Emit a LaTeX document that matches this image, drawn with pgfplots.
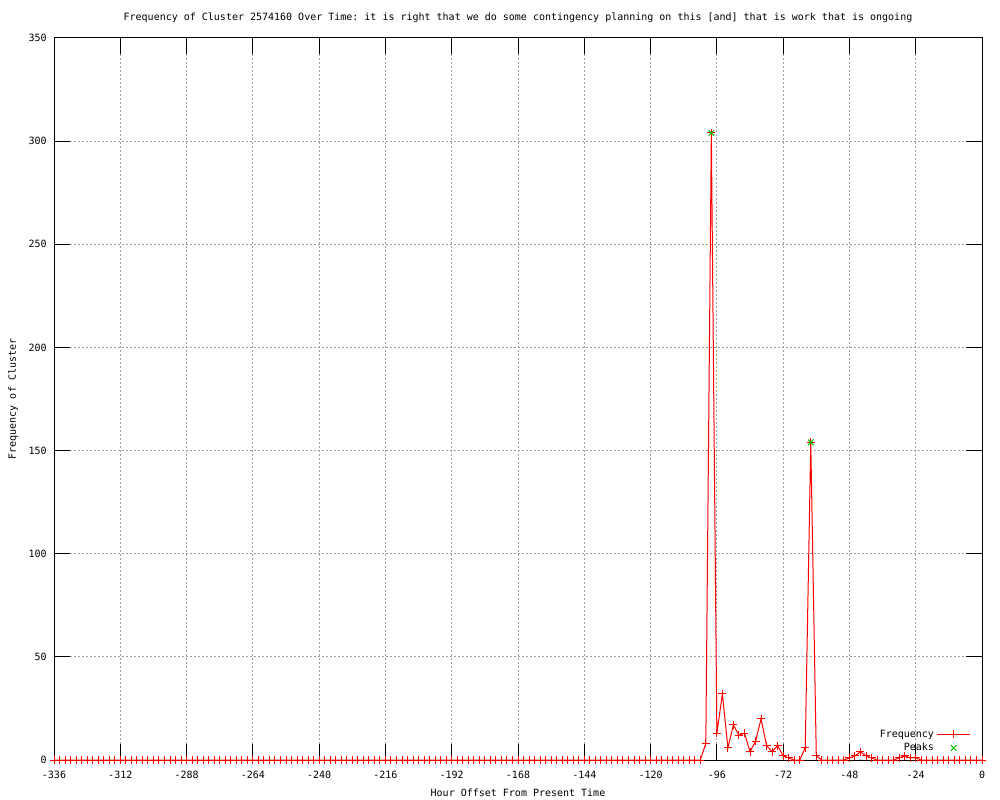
\documentclass[border=0pt]{standalone}
\usepackage{pgfplots}
\pgfplotsset{compat=1.18}
\usepackage{fontspec}
\setmainfont{DejaVu Sans Mono}
\frenchspacing
\definecolor{gpgreen}{RGB}{0,192,0}
\definecolor{gpgrid}{RGB}{160,160,160}
\begin{document}
\begin{tikzpicture}[font=\fontsize{7.5}{9}\selectfont]
\useasboundingbox (0,0) rectangle (750pt,600pt);
\begin{axis}[
  at={(40.5pt,30pt)}, anchor=south west,
  scale only axis, width=696pt, height=541.5pt,
  xmin=-336, xmax=0, ymin=0, ymax=350,
  xtick={-336,-312,-288,-264,-240,-216,-192,-168,-144,-120,-96,-72,-48,-24,0},
  xticklabels={-336,-312,-288,-264,-240,-216,-192,-168,-144,-120,-96,-72,-48,-24,0},
  ytick={0,50,100,150,200,250,300,350},
  yticklabels={0,50,100,150,200,250,300,350},
  tick align=inside, major tick length=12pt,
  minor tick num=0,
  axis line style={line width=0.75pt},
  tick style={black, line width=0.75pt},
  grid=major,
  major grid style={gpgrid, line width=0.75pt, dash pattern=on 1.5pt off 1.5pt},
  xticklabel style={anchor=base, inner sep=0pt, yshift=-14pt},
  yticklabel style={anchor=east, inner sep=0pt, xshift=-5.25pt},
  title={Frequency of Cluster 2574160 Over Time: it is right that we do some contingency planning on this [and] that is work that is ongoing},
  title style={at={(axis description cs:0.5,1)}, anchor=center, yshift=9pt, inner sep=0pt},
  xlabel={Hour Offset From Present Time},
  xlabel style={at={(axis description cs:0.5,0)}, anchor=center, yshift=-24.75pt, inner sep=0pt},
  ylabel={Frequency of Cluster},
  ylabel style={at={(axis description cs:-0.0442,0.5)}, anchor=center, inner sep=0pt},
  clip=false,
  legend plot pos=right,
  legend cell align=right,
  legend style={draw=none, fill=none, at={(axis description cs:0.988,0.046)}, anchor=north east,
    inner sep=0pt, row sep=-0.9pt, font=\fontsize{7.5}{9}\selectfont},
  legend image code/.code={\draw[#1, mark repeat=2, mark phase=2] plot coordinates {(0pt,0pt) (12.4pt,0pt) (24.75pt,0pt)};},
]
\addplot[red, line width=0.75pt, mark=+, mark size=3pt, mark options={line width=0.75pt}] coordinates {
(-336,0) (-334,0) (-332,0) (-330,0) (-328,0) (-326,0) (-324,0) (-322,0) (-320,0) (-318,0)
(-316,0) (-314,0) (-312,0) (-310,0) (-308,0) (-306,0) (-304,0) (-302,0) (-300,0) (-298,0)
(-296,0) (-294,0) (-292,0) (-290,0) (-288,0) (-286,0) (-284,0) (-282,0) (-280,0) (-278,0)
(-276,0) (-274,0) (-272,0) (-270,0) (-268,0) (-266,0) (-264,0) (-262,0) (-260,0) (-258,0)
(-256,0) (-254,0) (-252,0) (-250,0) (-248,0) (-246,0) (-244,0) (-242,0) (-240,0) (-238,0)
(-236,0) (-234,0) (-232,0) (-230,0) (-228,0) (-226,0) (-224,0) (-222,0) (-220,0) (-218,0)
(-216,0) (-214,0) (-212,0) (-210,0) (-208,0) (-206,0) (-204,0) (-202,0) (-200,0) (-198,0)
(-196,0) (-194,0) (-192,0) (-190,0) (-188,0) (-186,0) (-184,0) (-182,0) (-180,0) (-178,0)
(-176,0) (-174,0) (-172,0) (-170,0) (-168,0) (-166,0) (-164,0) (-162,0) (-160,0) (-158,0)
(-156,0) (-154,0) (-152,0) (-150,0) (-148,0) (-146,0) (-144,0) (-142,0) (-140,0) (-138,0)
(-136,0) (-134,0) (-132,0) (-130,0) (-128,0) (-126,0) (-124,0) (-122,0) (-120,0) (-118,0)
(-116,0) (-114,0) (-112,0) (-110,0) (-108,0) (-106,0) (-104,0) (-102,0) (-100,8) (-98,304)
(-96,13) (-94,32) (-92,6) (-90,17) (-88,12) (-86,13) (-84,4) (-82,9) (-80,20) (-78,7)
(-76,4) (-74,7) (-72,2) (-70,1) (-68,0) (-66,0) (-64,6) (-62,154) (-60,2) (-58,0)
(-56,0) (-54,0) (-52,0) (-50,0) (-48,1) (-46,2) (-44,4) (-42,2) (-40,1) (-38,0)
(-36,0) (-34,0) (-32,0) (-30,1) (-28,2) (-26,1) (-24,1) (-22,0) (-20,0) (-18,0)
(-16,0) (-14,0) (-12,0) (-10,0) (-8,0) (-6,0) (-4,0) (-2,0) (0,0)
};
\addlegendentry{Frequency}
\addplot[only marks, gpgreen, mark=x, mark size=3pt, mark options={line width=0.75pt}] coordinates {
(-98,304) (-62,154)
};
\addlegendentry{Peaks}
\end{axis}
\end{tikzpicture}
\end{document}
